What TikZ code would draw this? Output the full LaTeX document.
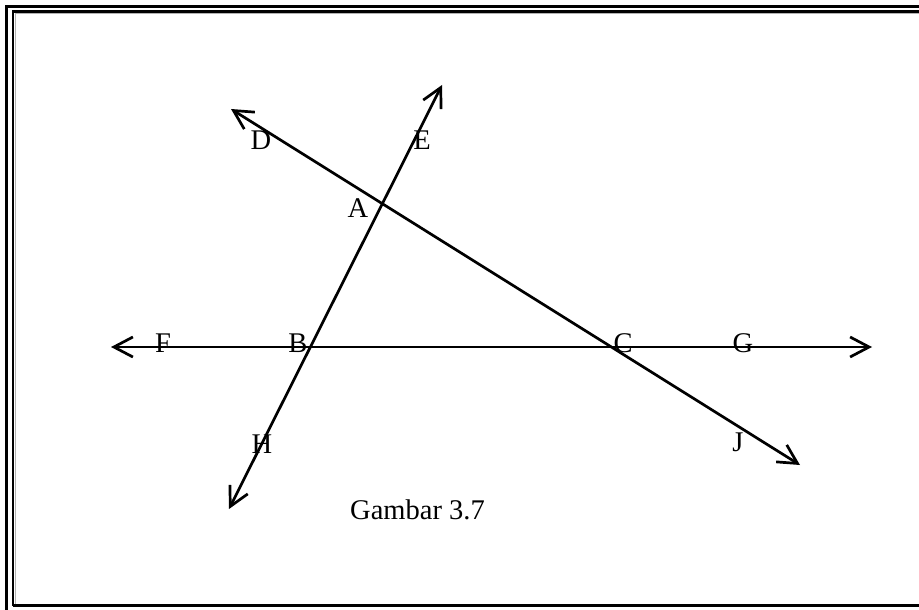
\documentclass[tikz,border=0pt]{standalone}
\usepackage{fontspec}
\setmainfont{Liberation Serif}
\usetikzlibrary{arrows.meta}
\begin{document}
\begin{tikzpicture}[x=1pt,y=-1pt,
  ray/.style={line width=2.7pt,{Straight Barb[length=19pt,width=20pt,line width=2.7pt]}-{Straight Barb[length=19pt,width=20pt,line width=2.7pt]}},
  lbl/.style={font=\fontsize{28.5}{32}\selectfont,inner sep=0pt,anchor=base},
  frame/.style={line width=2.6pt}]
\useasboundingbox (0,0) rectangle (919,610);
% frame
\draw[frame] (6.3,610) -- (6.3,6.5) -- (919,6.5);
\draw[frame] (13,606) -- (13,11.5) -- (919,11.5);
\draw[frame] (13,605.5) -- (919,605.5);
\draw[gray!60,line width=0.8pt] (15.3,604) -- (15.3,13.5) -- (919,13.5);
% end points
\coordinate (Dend) at (231,109);
\coordinate (Jend) at (800,465);
\coordinate (Eend) at (442,85);
\coordinate (Hend) at (229,509);
\coordinate (Fend) at (111,347);
\coordinate (Gend) at (872,347);
% lines
\draw[ray] (Dend) -- (Jend);
\draw[ray] (Hend) -- (Eend);
\draw[ray] (Fend) -- (Gend);
% labels
\node[lbl] (D) at (261,149) {D};
\node[lbl] (E) at (422,149) {E};
\node[lbl] (A) at (358,217) {A};
\node[lbl] (F) at (163,352) {F};
\node[lbl] (B) at (298,352) {B};
\node[lbl] (C) at (623,352) {C};
\node[lbl] (G) at (743,352) {G};
\node[lbl] (H) at (262,453) {H};
\node[lbl] (J) at (738,451) {J};
\node[lbl,anchor=base west] (cap) at (350,519) {Gambar 3.7};
\end{tikzpicture}
\end{document}
